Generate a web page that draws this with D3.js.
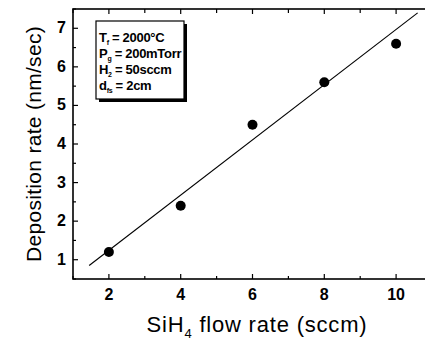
<!DOCTYPE html>
<html>
<head>
<meta charset="utf-8">
<script src="https://cdn.jsdelivr.net/npm/d3@7/dist/d3.min.js"></script>
<style>
  body { margin: 0; background: #fff; }
  svg { display: block; font-family: Arial, "Liberation Sans", sans-serif; }
</style>
</head>
<body>
<div id="chart"></div>
<script>
// measured points
const flowRates = [2, 4, 6, 8, 10];
const depRates = [1.2, 2.4, 4.5, 5.6, 6.6];

// fitted straight line, endpoints as drawn
const fitX = [1.45, 10.6];
const fitY = [0.85, 7.4];

const xTicks = [2, 4, 6, 8, 10];
const xMinor = [1, 3, 5, 7, 9, 11];
const yTicks = [1, 2, 3, 4, 5, 6, 7];
const yMinor = [0.5, 1.5, 2.5, 3.5, 4.5, 5.5, 6.5, 7.5];

// conditions shown in the inset box
const condNames = ['T', 'P', 'H', 'd'];
const condSubs = ['f', 'g', '2', 'fs'];
const condValues = ['= 2000°C', '= 200mTorr', '= 50sccm', '= 2cm'];

const W = 425, H = 340;
const margin = { top: 9, right: -7, bottom: 61, left: 73 };

const svg = d3.select('#chart').append('svg')
  .attr('width', W)
  .attr('height', H);

const x = d3.scaleLinear().domain([1, 11]).range([margin.left, W - margin.right]);
const y = d3.scaleLinear().domain([0.5, 7.5]).range([H - margin.bottom, margin.top]);

const x0 = x.range()[0], x1 = x.range()[1];
const y0 = y.range()[0], y1 = y.range()[1];

// frame
svg.append('rect')
  .attr('x', x0).attr('y', y1)
  .attr('width', x1 - x0).attr('height', y0 - y1)
  .attr('fill', 'none')
  .attr('stroke', '#000')
  .attr('stroke-width', 1.6);

// ticks (inward, mirrored on top)
const tickG = svg.append('g').attr('stroke', '#000').attr('stroke-width', 1.2);
xTicks.forEach(v => {
  tickG.append('line').attr('x1', x(v)).attr('x2', x(v)).attr('y1', y0).attr('y2', y0 - 5);
  tickG.append('line').attr('x1', x(v)).attr('x2', x(v)).attr('y1', y1).attr('y2', y1 + 5);
});
xMinor.forEach(v => {
  tickG.append('line').attr('x1', x(v)).attr('x2', x(v)).attr('y1', y0).attr('y2', y0 - 3);
  tickG.append('line').attr('x1', x(v)).attr('x2', x(v)).attr('y1', y1).attr('y2', y1 + 4);
});
yTicks.forEach(v => {
  tickG.append('line').attr('x1', x0).attr('x2', x0 + 5).attr('y1', y(v)).attr('y2', y(v));
});
yMinor.forEach(v => {
  tickG.append('line').attr('x1', x0).attr('x2', x0 + 3).attr('y1', y(v)).attr('y2', y(v));
});

// tick labels
svg.append('g').selectAll('text')
  .data(xTicks)
  .enter().append('text')
  .attr('x', d => x(d))
  .attr('y', y0 + 21)
  .attr('text-anchor', 'middle')
  .attr('font-size', 16)
  .attr('font-weight', 'bold')
  .text(d => d);

svg.append('g').selectAll('text')
  .data(yTicks)
  .enter().append('text')
  .attr('x', x0 - 7)
  .attr('y', d => y(d) + 5)
  .attr('text-anchor', 'end')
  .attr('font-size', 16)
  .attr('font-weight', 'bold')
  .text(d => d);

// axis titles
svg.append('text')
  .attr('transform', `translate(41,${(y0 + y1) / 2}) rotate(-90)`)
  .attr('text-anchor', 'middle')
  .attr('font-size', 21)
  .attr('letter-spacing', 0.3)
  .text('Deposition rate (nm/sec)');

const xt = svg.append('text')
  .attr('x', 257)
  .attr('y', 332)
  .attr('text-anchor', 'middle')
  .attr('font-size', 22)
  .attr('letter-spacing', 0.8);
xt.append('tspan').text('SiH');
xt.append('tspan').attr('font-size', 13).attr('dy', 6).text('4');
xt.append('tspan').attr('dy', -6).text(' flow rate (sccm)');

// fit line
svg.append('line')
  .attr('x1', x(fitX[0])).attr('y1', y(fitY[0]))
  .attr('x2', x(fitX[1])).attr('y2', y(fitY[1]))
  .attr('stroke', '#000')
  .attr('stroke-width', 1.1);

// data points
svg.append('g').selectAll('circle')
  .data(flowRates)
  .enter().append('circle')
  .attr('cx', d => x(d))
  .attr('cy', (d, i) => y(depRates[i]))
  .attr('r', 5)
  .attr('fill', '#000');

// inset box with shadow
const bx = 96, by = 21, bw = 88, bh = 78;
svg.append('rect')
  .attr('x', bx + 3).attr('y', by + 3)
  .attr('width', bw).attr('height', bh)
  .attr('fill', '#000');
svg.append('rect')
  .attr('x', bx).attr('y', by)
  .attr('width', bw).attr('height', bh)
  .attr('fill', '#fff')
  .attr('stroke', '#000')
  .attr('stroke-width', 1.2);

const cond = svg.append('g')
  .attr('font-size', 13)
  .attr('font-weight', 'bold')
  .attr('font-family', '"Liberation Sans Narrow", Arial, sans-serif')
  .attr('letter-spacing', -0.3);
condNames.forEach((n, i) => {
  const t = cond.append('text')
    .attr('x', bx + 3)
    .attr('y', by + 21 + i * 16);
  t.append('tspan').text(n);
  t.append('tspan').attr('font-size', 7).attr('dy', 3).text(condSubs[i]);
  t.append('tspan').attr('dy', -3).text(' ' + condValues[i]);
});
</script>
</body>
</html>
